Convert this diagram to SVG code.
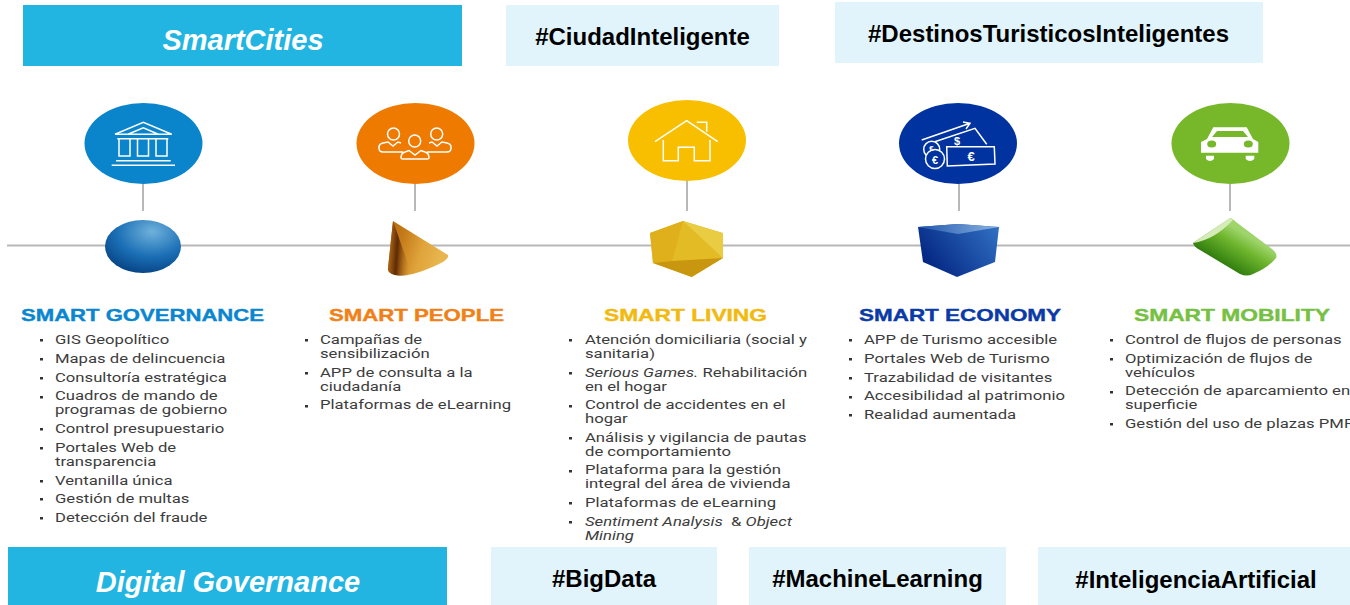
<svg xmlns="http://www.w3.org/2000/svg" width="1350" height="605" viewBox="0 0 1350 605">
<style>
.band{fill:#22b5e2}.tag{fill:#e1f4fb}
.bt{font:italic bold 29px "Liberation Sans",Arial,sans-serif;fill:#fff;text-anchor:middle}
.tt{font:bold 24px "Liberation Sans",Arial,sans-serif;fill:#000;text-anchor:middle}
.h{font:bold 17px "Liberation Sans",Arial,sans-serif;stroke-width:.4}
.b{font:13px Roboto,"Liberation Sans",sans-serif;fill:#3c3c3c}
.i{font-style:italic}
.ln{stroke:#b8b8b8;stroke-width:2;fill:none}
.ic{stroke:#fff;fill:none;stroke-width:1.5}
.dot{fill:#333}
.sym{font:bold 13px "Liberation Sans",sans-serif;fill:#fff;text-anchor:middle}
</style>
<defs>
<radialGradient id="gs" cx=".62" cy=".22" r=".85"><stop offset="0" stop-color="#6fb1dc"/><stop offset=".55" stop-color="#1b6fb5"/><stop offset="1" stop-color="#043f80"/></radialGradient>
<linearGradient id="gc" x1="0" y1="0" x2="1" y2=".3"><stop offset="0" stop-color="#b5680f"/><stop offset=".3" stop-color="#c47a18"/><stop offset=".65" stop-color="#dfa33a"/><stop offset="1" stop-color="#e8b64e"/></linearGradient>
<linearGradient id="gd" x1="0" y1="0" x2="1" y2=".15"><stop offset="0" stop-color="#c8801c"/><stop offset=".45" stop-color="#5e2a04"/><stop offset="1" stop-color="#b8701a" stop-opacity="0"/></linearGradient>
<linearGradient id="gb" x1="0" y1=".7" x2="1" y2=".2"><stop offset="0" stop-color="#01227f"/><stop offset="1" stop-color="#2f6dc0"/></linearGradient>
<linearGradient id="gt" x1="0" y1="0" x2="1" y2="0"><stop offset="0" stop-color="#1f57ae"/><stop offset="1" stop-color="#8db4e0"/></linearGradient>
<linearGradient id="gm2" x1="1258" y1="242" x2="1238" y2="275" gradientUnits="userSpaceOnUse"><stop offset="0" stop-color="#9ed46a"/><stop offset=".35" stop-color="#6fb62e"/><stop offset="1" stop-color="#2c7a0c"/></linearGradient>
</defs>

<g id="connectors">
<path class="ln" d="M7 245.500H1350M143 184V211M415 184V211M687 181V211M959 184V211M1230 184V211"/>
</g>

<g id="band-smartcities"><rect class="band" x="23" y="5" width="439" height="61"/><text class="bt" x="243" y="50">SmartCities</text></g>
<g id="tag-ciudad"><rect class="tag" x="506" y="5" width="273" height="61"/><text class="tt" x="642.500" y="45">#CiudadInteligente</text></g>
<g id="tag-destinos"><rect class="tag" x="835" y="2" width="428" height="61"/><text class="tt" x="1048.500" y="42">#DestinosTuristicosInteligentes</text></g>
<g id="band-digital"><rect class="band" x="8" y="547" width="439" height="58"/><text class="bt" x="228" y="592">Digital Governance</text></g>
<g id="tag-bigdata"><rect class="tag" x="491" y="547" width="226" height="58"/><text class="tt" x="604" y="587">#BigData</text></g>
<g id="tag-ml"><rect class="tag" x="749" y="547" width="257" height="58"/><text class="tt" x="877.500" y="587">#MachineLearning</text></g>
<g id="tag-ia"><rect class="tag" x="1038" y="547" width="312" height="58"/><text class="tt" x="1196" y="588">#InteligenciaArtificial</text></g>

<g id="smart-governance">
<ellipse cx="143.500" cy="143.500" rx="59" ry="40.500" fill="#0a85cc"/>
<path class="ic" d="M115 134.300L143.300 122.300L171.700 134.300ZM128 134.300L143.300 127.700L158.300 134.300M117.300 138.700H168.300M119 139V156H130V139M137.500 139V156H148.500V139M156 139V156H167V139M116 160.700H170.700M111.700 165.300H175"/>
<ellipse cx="143" cy="246.500" rx="38" ry="26.500" fill="url(#gs)"/>
<text class="h" x="21" y="321" fill="#0a86d0" stroke="#0a86d0" textLength="243" lengthAdjust="spacingAndGlyphs">SMART GOVERNANCE</text>
<path class="dot" d="M40 339h3v2.500h-3zM40 358h3v2.500h-3zM40 377h3v2.500h-3zM40 396h3v2.500h-3zM40 428h3v2.500h-3zM40 447h3v2.500h-3zM40 480h3v2.500h-3zM40 498h3v2.500h-3zM40 517h3v2.500h-3z"/>
<g transform="translate(55 0) scale(1.2825 1)">
<text class="b" y="344">GIS Geopolítico</text><text class="b" y="363">Mapas de delincuencia</text><text class="b" y="382">Consultoría estratégica</text><text class="b" y="400">Cuadros de mando de</text><text class="b" y="414">programas de gobierno</text><text class="b" y="433">Control presupuestario</text><text class="b" y="452">Portales Web de</text><text class="b" y="466">transparencia</text><text class="b" y="485">Ventanilla única</text><text class="b" y="503">Gestión de multas</text><text class="b" y="522">Detección del fraude</text>
</g>
</g>

<g id="smart-people">
<ellipse cx="415.500" cy="143.500" rx="59" ry="40.500" fill="#ee7a00"/>
<g class="ic"><circle cx="393.500" cy="134" r="6"/><circle cx="414.700" cy="141" r="6"/><circle cx="436.700" cy="134" r="6"/>
<path d="M403 152H383Q379 152 379 148V147Q379 144 383 143L388 142L393 146L398 142L401 143M427 152H447Q451 152 451 148V147Q451 144 447 143L442 142L437 146L432 142L429 143M401 158Q401 153 405 152L409 150.500L415 155L421 150.500L425 152Q429 153 429 158Q429 159 427 159H403Q401 159 401 158Z"/></g>
<path d="M393 221L448 255Q450 260 430 268Q410 277 395 275Q387 273 388 268Z" fill="url(#gc)"/>
<path d="M393 221L388 268Q387 273 395 275Q403 277 412 275Z" fill="url(#gd)"/>
<text class="h" x="329" y="321" fill="#f08119" stroke="#f08119" textLength="175" lengthAdjust="spacingAndGlyphs">SMART PEOPLE</text>
<path class="dot" d="M305 339h3v2.500h-3zM305 372h3v2.500h-3zM305 405h3v2.500h-3z"/>
<g transform="translate(320 0) scale(1.2825 1)">
<text class="b" y="344">Campañas de</text><text class="b" y="358">sensibilización</text><text class="b" y="377">APP de consulta a la</text><text class="b" y="391">ciudadanía</text><text class="b" y="409">Plataformas de eLearning</text>
</g>
</g>

<g id="smart-living">
<ellipse cx="687" cy="140.500" rx="59" ry="40.500" fill="#f8bf00"/>
<path class="ic" d="M655 141.700L686.700 120.700L717.700 141.700M696.700 122.300H706.700V131.700M663.300 140V160.700H678.300V147.300H694.300V160.700H710V140"/>
<path d="M683 221L722.700 233L723 258L691.700 277L653 263L650 233Z" fill="#e3bb25"/>
<path d="M650 233L683 221L672 261L653 263Z" fill="#dfb01c"/>
<path d="M683 221L722.700 233L723 258Z" fill="#e9cc42"/>
<path d="M653 263L672 261L723 258L691.700 277Z" fill="#c9960f"/>
<text class="h" x="604" y="321" fill="#f2b90f" stroke="#f2b90f" textLength="163" lengthAdjust="spacingAndGlyphs">SMART LIVING</text>
<path class="dot" d="M569 339h3v2.500h-3zM569 372h3v2.500h-3zM569 405h3v2.500h-3zM569 437h3v2.500h-3zM569 470h3v2.500h-3zM569 502h3v2.500h-3zM569 521h3v2.500h-3z"/>
<g transform="translate(585 0) scale(1.2825 1)">
<text class="b" y="344">Atención domiciliaria (social y</text><text class="b" y="358">sanitaria)</text><text class="b" y="377"><tspan class="i">Serious Games.</tspan> Rehabilitación</text><text class="b" y="391">en el hogar</text><text class="b" y="409">Control de accidentes en el</text><text class="b" y="423">hogar</text><text class="b" y="442">Análisis y vigilancia de pautas</text><text class="b" y="456">de comportamiento</text><text class="b" y="474">Plataforma para la gestión</text><text class="b" y="488">integral del área de vivienda</text><text class="b" y="507">Plataformas de eLearning</text><text class="b" y="526" xml:space="preserve"><tspan class="i">Sentiment Analysis</tspan>  &amp; <tspan class="i">Object</tspan></text><text class="b i" y="540">Mining</text>
</g>
</g>

<g id="smart-economy">
<ellipse cx="958" cy="143.500" rx="59" ry="40.500" fill="#0033a0"/>
<g class="ic"><path d="M921.700 140L970 123.300M963 122L970 123.300L966 129M931 143L975 128.300L986.700 144.300"/><path d="M946.700 146.700H994.300L995 164L947.300 166Z"/><circle cx="931.700" cy="149.300" r="8" fill="#0033a0"/><circle cx="935" cy="159" r="9.500" fill="#0033a0"/></g>
<text class="sym" x="971" y="160.500">€</text><text class="sym" x="935" y="163.500" style="font-size:11px">€</text><text class="sym" x="931.500" y="151" style="font-size:8px">€</text><text class="sym" x="957" y="144.500" style="font-size:11px">$</text>
<path d="M918 227L958 224L999 227L995 262L957 277L923 262Z" fill="url(#gb)"/>
<path d="M918 227L958 224L999 227L958 234Z" fill="url(#gt)"/>
<text class="h" x="859" y="321" fill="#0a3aa5" stroke="#0a3aa5" textLength="202" lengthAdjust="spacingAndGlyphs">SMART ECONOMY</text>
<path class="dot" d="M849 339h3v2.500h-3zM849 358h3v2.500h-3zM849 377h3v2.500h-3zM849 396h3v2.500h-3zM849 414h3v2.500h-3z"/>
<g transform="translate(864 0) scale(1.2825 1)">
<text class="b" y="344">APP de Turismo accesible</text><text class="b" y="363">Portales Web de Turismo</text><text class="b" y="382">Trazabilidad de visitantes</text><text class="b" y="400">Accesibilidad al patrimonio</text><text class="b" y="419">Realidad aumentada</text>
</g>
</g>

<g id="smart-mobility">
<ellipse cx="1230.500" cy="143.500" rx="59" ry="40.500" fill="#76b82a"/>
<path d="M1213.300 127.300H1246.700L1253 139L1258.300 142V152.700H1201V142L1207 139Z" fill="#fff"/>
<path d="M1217 131H1243L1248 137H1212Z" fill="#76b82a"/><ellipse cx="1211.700" cy="144" rx="4.500" ry="3.500" fill="#76b82a"/><ellipse cx="1248.300" cy="144" rx="4.500" ry="3.500" fill="#76b82a"/>
<path d="M1206 155.700H1214V159Q1210 163 1206 159ZM1245.700 155.700H1254.300V159Q1250 163 1245.700 159Z" fill="#fff"/>
<path d="M1230 218L1193 243Q1194 247 1200 250L1240 274Q1247 277 1253 274Q1268 268 1276 258Q1278 254 1272 249L1236 222Q1232 218 1230 218Z" fill="url(#gm2)"/>
<path d="M1193 243Q1214 240 1233 220L1230 218Z" fill="#d5ecb8"/>
<text class="h" x="1134" y="321" fill="#76c043" stroke="#76c043" textLength="196" lengthAdjust="spacingAndGlyphs">SMART MOBILITY</text>
<path class="dot" d="M1110 339h3v2.500h-3zM1110 358h3v2.500h-3zM1110 391h3v2.500h-3zM1110 423h3v2.500h-3z"/>
<g transform="translate(1125 0) scale(1.2825 1)">
<text class="b" y="344">Control de flujos de personas</text><text class="b" y="363">Optimización de flujos de</text><text class="b" y="377">vehículos</text><text class="b" y="395">Detección de aparcamiento en</text><text class="b" y="409">superficie</text><text class="b" y="428">Gestión del uso de plazas PMR</text>
</g>
</g>
</svg>
